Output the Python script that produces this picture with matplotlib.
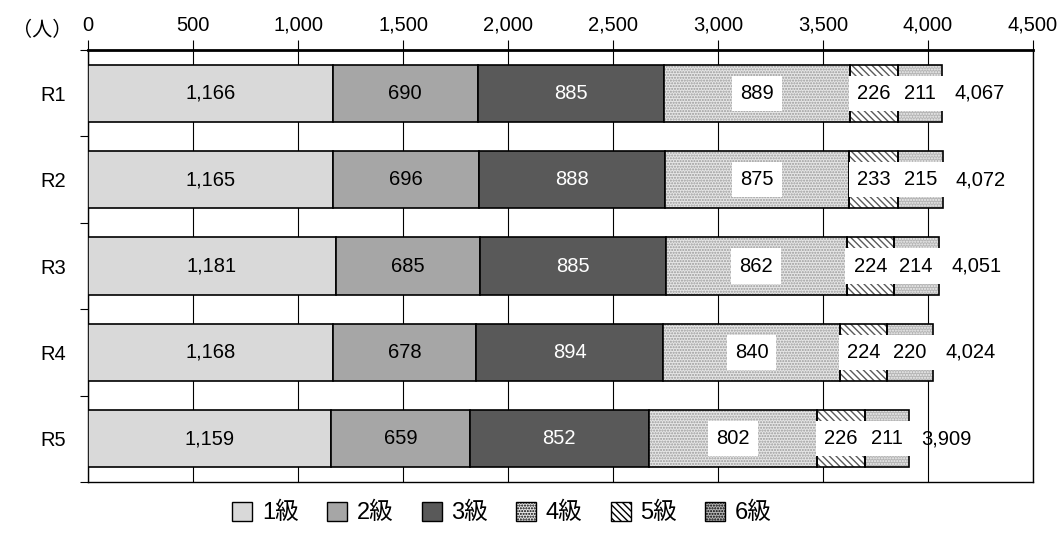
import matplotlib
matplotlib.use("Agg")
import matplotlib.pyplot as plt
import numpy as np

plt.rcParams['font.family'] = ['Liberation Sans', 'Noto Sans CJK JP', 'DejaVu Sans']
plt.rcParams['hatch.linewidth'] = 1.0

years = ["R1", "R2", "R3", "R4", "R5"]
grades = ["1級", "2級", "3級", "4級", "5級", "6級"]
g1 = [1166, 1165, 1181, 1168, 1159]
g2 = [690, 696, 685, 678, 659]
g3 = [885, 888, 885, 894, 852]
g4 = [889, 875, 862, 840, 802]
g5 = [226, 233, 224, 224, 226]
g6 = [211, 215, 214, 220, 211]
totals = [4067, 4072, 4051, 4024, 3909]
xticks = [0, 500, 1000, 1500, 2000, 2500, 3000, 3500, 4000, 4500]

series = [g1, g2, g3, g4, g5, g6]
faces = ["#d9d9d9", "#a6a6a6", "#595959", "#e6e6e6", "#ffffff", "#b5b5b5"]
hatches = [None, None, None, "......", "\\\\\\\\\\", "......"]
hatch_cols = [None, None, None, "#9a9a9a", "#5a5a5a", "#f0f0f0"]

fig = plt.figure(figsize=(10.57, 5.40), dpi=100)
ax = fig.add_axes([88/1057, 1-482/540, (1033-88)/1057, (482-50)/540])

y = np.arange(len(years))
left = np.zeros(len(years))
handles = []
FS = 14.5
for i, (vals, fc, h, hc) in enumerate(zip(series, faces, hatches, hatch_cols)):
    vals = np.array(vals)
    bars = ax.barh(y, vals, left=left, height=0.66, color=fc, edgecolor="black",
                   linewidth=1.2, zorder=3, label=grades[i])
    if h:
        for b in bars:
            b.set_hatch(h)
            b.set_edgecolor(hc)
            b.set_linewidth(0)
        ax.barh(y, vals, left=left, height=0.66, color="none", edgecolor="black",
                linewidth=1.2, zorder=4)
    handles.append(bars)
    for j, v in enumerate(vals):
        cx = left[j] + v / 2
        if i < 3:
            ax.text(cx, y[j], f"{v:,}", ha="center", va="center", fontsize=FS,
                    color="white" if i == 2 else "black", zorder=5)
        else:
            ax.text(cx, y[j], f"{v:,}", ha="center", va="center", fontsize=FS,
                    color="black", zorder=5,
                    bbox=dict(boxstyle="square,pad=0.4", fc="white", ec="none"))
    left = left + vals

for j, t in enumerate(totals):
    ax.text(t + 60, y[j], f"{t:,}", ha="left", va="center", fontsize=FS, zorder=5)

ax.set_xlim(0, 4500)
ax.set_ylim(4.5, -0.5)
ax.xaxis.tick_top()
ax.set_xticks(xticks)
ax.set_xticklabels([f"{v:,}" for v in xticks], fontsize=FS)
ax.tick_params(axis="x", direction="out", length=7, width=0.8, pad=4)
ax.grid(axis="x", color="black", linewidth=0.8, zorder=0)
ax.set_yticks(y)
ax.set_yticklabels(years, fontsize=FS)
ax.tick_params(axis="y", which="major", length=0, pad=16)
ax.set_yticks(np.arange(-0.5, 5.0, 1.0), minor=True)
ax.tick_params(axis="y", which="minor", direction="out", length=6, width=0.8)
for s in ax.spines.values():
    s.set_linewidth(1.0)
ax.spines["top"].set_linewidth(2.0)

fig.text(12/1057, 1-30/540, "（人）", fontsize=FS, ha="left", va="center")

leg = fig.legend(handles=handles, labels=grades, loc="center", ncol=6,
                 bbox_to_anchor=(0.475, 1-513/540), frameon=False, fontsize=17,
                 handlelength=0.85, handleheight=0.85, handletextpad=0.4,
                 columnspacing=1.2)
for lh in leg.legend_handles:
    lh.set_edgecolor("black")
    lh.set_linewidth(1.0)

fig.savefig("out.png", dpi=100)
